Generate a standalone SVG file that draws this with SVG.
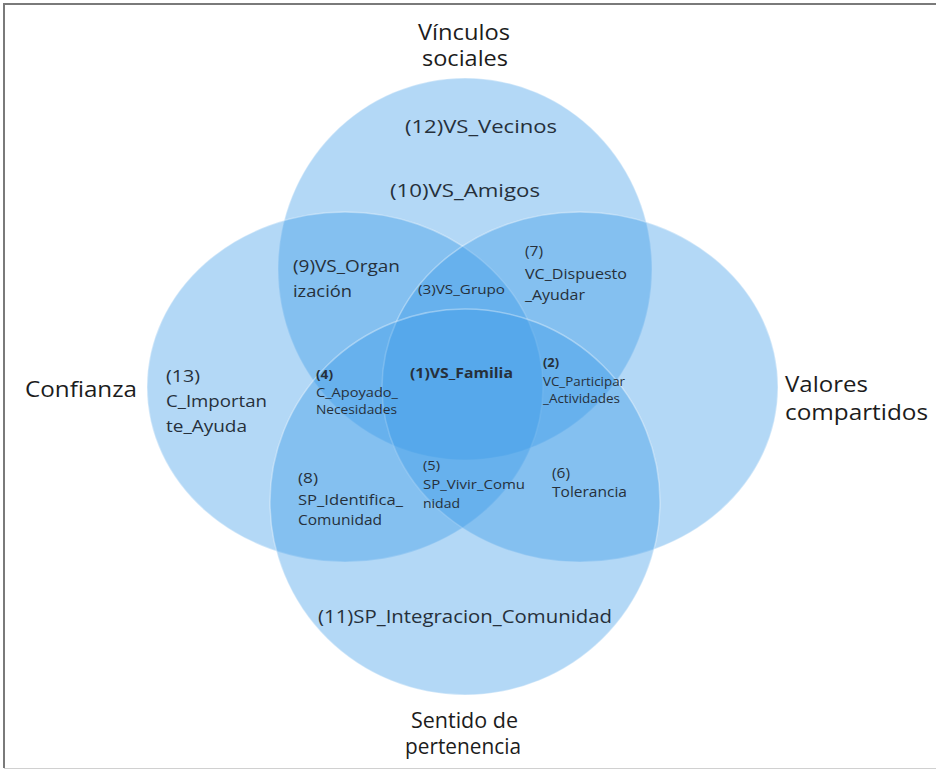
<svg xmlns="http://www.w3.org/2000/svg" width="936" height="772" viewBox="0 0 936 772">
<style>
.set{fill:#3c9be8;fill-opacity:0.39;stroke:#ffffff;stroke-opacity:0.35;stroke-width:1.5}
.title{font-family:"Open Sans","Noto Sans",sans-serif;font-size:21px;fill:#1c1c1c}
.lbl{font-family:"Open Sans","Noto Sans",sans-serif;fill:#26303b}
.b{font-weight:bold}
</style>
<rect x="0" y="0" width="936" height="772" fill="#ffffff"/>
<path d="M4 768 V4 H936" fill="none" stroke="#7a7a7a" stroke-width="2"/>
<line x1="4" y1="768.5" x2="936" y2="768.5" stroke="#d0d0d0" stroke-width="1"/>

<g id="set-vinculos">
<ellipse class="set" cx="465" cy="269" rx="187" ry="191"/>
<text class="title" x="418" y="40" font-size="20" textLength="92" lengthAdjust="spacingAndGlyphs">Vínculos</text>
<text class="title" x="422" y="66" font-size="20" textLength="86" lengthAdjust="spacingAndGlyphs">sociales</text>
</g>
<g id="set-confianza">
<ellipse class="set" cx="345" cy="387" rx="198" ry="175"/>
<text class="title" x="25" y="397" textLength="112" lengthAdjust="spacingAndGlyphs">Confianza</text>
</g>
<g id="set-valores">
<ellipse class="set" cx="580" cy="387" rx="198" ry="175"/>
<text class="title" x="785" y="392" textLength="83" lengthAdjust="spacingAndGlyphs">Valores</text>
<text class="title" x="785" y="420" textLength="143" lengthAdjust="spacingAndGlyphs">compartidos</text>
</g>
<g id="set-pertenencia">
<ellipse class="set" cx="465" cy="502" rx="195" ry="193"/>
<text class="title" x="411" y="728" textLength="107" lengthAdjust="spacingAndGlyphs">Sentido de</text>
<text class="title" x="405" y="754" textLength="116" lengthAdjust="spacingAndGlyphs">pertenencia</text>
</g>

<g id="connectors"/>

<g id="r12"><text class="lbl" font-size="18" x="405" y="133" textLength="152" lengthAdjust="spacingAndGlyphs">(12)VS_Vecinos</text></g>
<g id="r10"><text class="lbl" font-size="19" x="390" y="197" textLength="150" lengthAdjust="spacingAndGlyphs">(10)VS_Amigos</text></g>
<g id="r9">
<text class="lbl" font-size="17" x="293" y="272" textLength="107" lengthAdjust="spacingAndGlyphs">(9)VS_Organ</text>
<text class="lbl" font-size="17" x="293" y="297" textLength="59" lengthAdjust="spacingAndGlyphs">ización</text>
</g>
<g id="r3"><text class="lbl" font-size="12.5" x="418" y="294" textLength="87" lengthAdjust="spacingAndGlyphs">(3)VS_Grupo</text></g>
<g id="r7">
<text class="lbl" font-size="14" x="525" y="256" textLength="18" lengthAdjust="spacingAndGlyphs">(7)</text>
<text class="lbl" font-size="14" x="525" y="279" textLength="102" lengthAdjust="spacingAndGlyphs">VC_Dispuesto</text>
<text class="lbl" font-size="14" x="525" y="300" textLength="60" lengthAdjust="spacingAndGlyphs">_Ayudar</text>
</g>
<g id="r4">
<text class="lbl b" font-size="13" x="316" y="379" textLength="17" lengthAdjust="spacingAndGlyphs">(4)</text>
<text class="lbl" font-size="13" x="316" y="397" textLength="82" lengthAdjust="spacingAndGlyphs">C_Apoyado_</text>
<text class="lbl" font-size="13" x="316" y="414" textLength="81" lengthAdjust="spacingAndGlyphs">Necesidades</text>
</g>
<g id="r1"><text class="lbl b" font-size="13.5" x="410" y="378" textLength="103" lengthAdjust="spacingAndGlyphs">(1)VS_Familia</text></g>
<g id="r2">
<text class="lbl b" font-size="12.5" x="543" y="367" textLength="16" lengthAdjust="spacingAndGlyphs">(2)</text>
<text class="lbl" font-size="12" x="543" y="386" textLength="82" lengthAdjust="spacingAndGlyphs">VC_Participar</text>
<text class="lbl" font-size="12" x="543" y="403" textLength="77" lengthAdjust="spacingAndGlyphs">_Actividades</text>
</g>
<g id="r13">
<text class="lbl" font-size="17" x="166" y="382" textLength="34" lengthAdjust="spacingAndGlyphs">(13)</text>
<text class="lbl" font-size="17" x="166" y="407" textLength="101" lengthAdjust="spacingAndGlyphs">C_Importan</text>
<text class="lbl" font-size="17" x="166" y="432" textLength="81" lengthAdjust="spacingAndGlyphs">te_Ayuda</text>
</g>
<g id="r8">
<text class="lbl" font-size="14" x="298" y="483" textLength="20" lengthAdjust="spacingAndGlyphs">(8)</text>
<text class="lbl" font-size="14" x="298" y="505" textLength="105" lengthAdjust="spacingAndGlyphs">SP_Identifica_</text>
<text class="lbl" font-size="14" x="298" y="525" textLength="84" lengthAdjust="spacingAndGlyphs">Comunidad</text>
</g>
<g id="r5">
<text class="lbl" font-size="13" x="423" y="470" textLength="17" lengthAdjust="spacingAndGlyphs">(5)</text>
<text class="lbl" font-size="13" x="423" y="489" textLength="102" lengthAdjust="spacingAndGlyphs">SP_Vivir_Comu</text>
<text class="lbl" font-size="13" x="423" y="508" textLength="37" lengthAdjust="spacingAndGlyphs">nidad</text>
</g>
<g id="r6">
<text class="lbl" font-size="14" x="552" y="478" textLength="18" lengthAdjust="spacingAndGlyphs">(6)</text>
<text class="lbl" font-size="14" x="552" y="497" textLength="75" lengthAdjust="spacingAndGlyphs">Tolerancia</text>
</g>
<g id="r11"><text class="lbl" font-size="19" x="318" y="623" textLength="294" lengthAdjust="spacingAndGlyphs">(11)SP_Integracion_Comunidad</text></g>
</svg>
